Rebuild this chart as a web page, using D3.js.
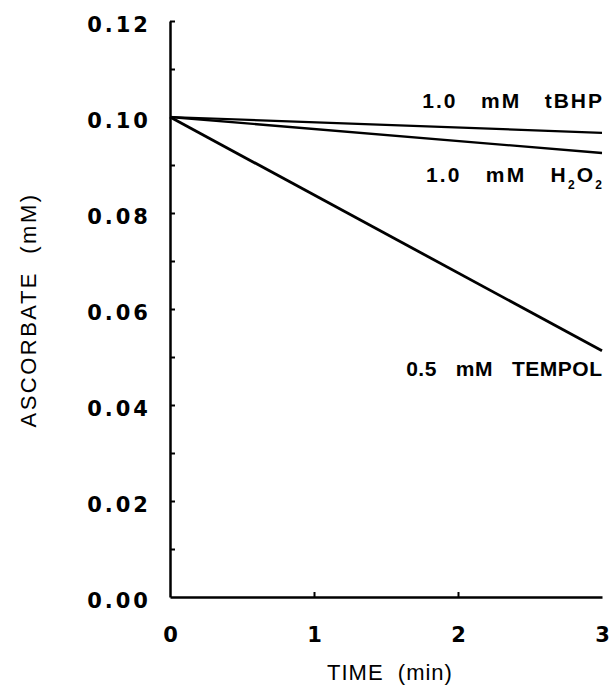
<!DOCTYPE html>
<html>
<head>
<meta charset="utf-8">
<script src="https://cdn.jsdelivr.net/npm/d3@7"></script>
<style>
  body { margin: 0; background: #fff; }
  svg text { font-family: "Liberation Sans", Arial, Helvetica, sans-serif; fill: #000; white-space: pre; }
</style>
</head>
<body>
<div id="chart"></div>
<script>
// data
const times = [0, 3];
const tbhp = [0.100, 0.0967];
const h2o2 = [0.100, 0.0925];
const tempol = [0.100, 0.0513];

const xTicks = [0, 1, 2, 3];
const yTicks = [0.01, 0.02, 0.03, 0.04, 0.05, 0.06, 0.07, 0.08, 0.09, 0.10, 0.11, 0.12];
const yLabels = [0.00, 0.02, 0.04, 0.06, 0.08, 0.10, 0.12];

// label text (second item: 1 = subscript) and the value where its baseline sits
const labels = [
    { parts: [["1.0   mM   tBHP", 0]], at: 0.1019, ls: 2 },
    { parts: [["1.0   mM   H", 0], ["2", 1], ["O", 0], ["2", 1]], at: 0.0865, ls: 2.2 },
    { parts: [["0.5   mM   TEMPOL", 0]], at: 0.0460, ls: 0.5 }
];

const width = 610, height = 689;
const numFont = "'DejaVu Sans', 'Liberation Sans', Arial, sans-serif";

const svg = d3.select("#chart")
    .append("svg")
    .attr("width", width)
    .attr("height", height);

const x = d3.scaleLinear().domain([0, 3]).range([170, 602]);
const y = d3.scaleLinear().domain([0, 0.12]).range([597, 21]);

// y axis, ticks pointing inward
const yAxis = svg.append("g")
    .attr("transform", `translate(${x(0)},0)`)
    .call(d3.axisLeft(y).tickValues(yTicks).tickSize(-5).tickSizeOuter(0).tickFormat(""));
yAxis.select(".domain").attr("stroke-width", 2.5);
yAxis.selectAll(".tick line").attr("stroke-width", 2);

svg.append("g").selectAll("text")
    .data(yLabels)
    .enter()
    .append("text")
    .attr("x", x(0) - 19)
    .attr("y", d => y(d))
    .attr("dy", "0.52em")
    .attr("text-anchor", "end")
    .style("font-family", numFont)
    .style("font-size", "21px")
    .style("font-weight", "bold")
    .style("letter-spacing", "3px")
    .text(d => d.toFixed(2));

// x axis
const xAxis = svg.append("g")
    .attr("transform", `translate(0,${y(0)})`)
    .call(d3.axisBottom(x).tickValues(xTicks).tickSize(-5).tickSizeOuter(0).tickPadding(30).tickFormat(d3.format("d")));
xAxis.select(".domain").attr("stroke-width", 2.5);
xAxis.selectAll(".tick line")
    .attr("stroke-width", 2)
    .attr("display", d => (d === 0 || d === 3) ? "none" : null);
xAxis.selectAll(".tick text")
    .style("font-size", "21px")
    .style("font-weight", "bold")
    .style("font-family", numFont);

// lines
const line = d3.line()
    .x((d, i) => x(times[i]))
    .y(d => y(d));

[[tbhp, 2.2], [h2o2, 2.4], [tempol, 2.8]].forEach(([vals, w]) => {
    svg.append("path")
        .datum(vals)
        .attr("fill", "none")
        .attr("stroke", "#000")
        .attr("stroke-width", w)
        .attr("d", line);
});

// series labels
labels.forEach(l => {
    const t = svg.append("text")
        .attr("x", x(3) + l.ls)
        .attr("y", y(l.at))
        .attr("text-anchor", "end")
        .style("font-size", "21px")
        .style("font-weight", "bold")
        .style("letter-spacing", l.ls + "px");
    l.parts.forEach(([s, sub]) => {
        t.append("tspan")
            .attr("dy", sub ? 7 : (s === "O" ? -7 : 0))
            .style("font-size", sub ? "12px" : null)
            .text(s);
    });
});

// axis titles
svg.append("text")
    .attr("transform", `translate(36,310) rotate(-90)`)
    .attr("text-anchor", "middle")
    .style("font-size", "22px")
    .style("letter-spacing", "2.5px")
    .text("ASCORBATE  (mM)");

svg.append("text")
    .attr("x", 390)
    .attr("y", 680)
    .attr("text-anchor", "middle")
    .style("font-size", "22px")
    .style("letter-spacing", "1px")
    .text("TIME  (min)");
</script>
</body>
</html>
